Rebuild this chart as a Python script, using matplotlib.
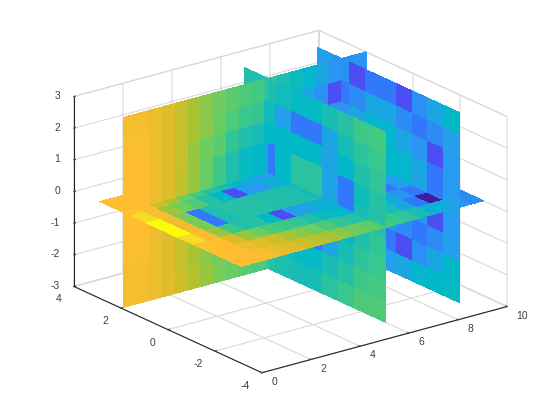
import matplotlib
matplotlib.use('Agg')
import numpy as np
import matplotlib.pyplot as plt
from matplotlib.colors import LinearSegmentedColormap
from mpl_toolkits.mplot3d.art3d import Poly3DCollection

# grid of the volume
x_grid = np.linspace(0.1, 10, 20)
y_grid = np.linspace(-3, 3, 10)
z_grid = np.linspace(-3, 3, 10)

# cell values, 0 = indigo, 100 = yellow
# slice x = 9, rows z ascending, columns y ascending
slice_x9 = [
    [33, 32, 31, 28, 26, 26, 28, 30, 30],
    [32, 28, 23, 10, 18, 18, 10, 23, 26],
    [26, 22, 18, 22, 28, 28, 22, 18, 22],
    [25, 10, 24, 27, 31, 31, 27, 24, 10],
    [25, 18, 27, 31, 32, 32, 31, 27, 18],
    [25, 18, 27, 31, 32, 32, 31, 27, 18],
    [25, 10, 24, 27, 31, 31, 27, 24, 10],
    [26, 22, 18, 22, 28, 28, 22, 18, 22],
    [32, 28, 23, 10, 18, 18, 10, 23, 26],
]
# slice x = 6
slice_x6 = [
    [51, 50, 47, 43, 38, 38, 40, 42, 42],
    [49, 48, 42, 39, 33, 33, 37, 41, 41],
    [47, 44, 38, 27, 18, 18, 26, 36, 42],
    [45, 41, 32, 27, 32, 32, 32, 32, 38],
    [42, 39, 18, 27, 43, 43, 32, 18, 36],
    [42, 36, 18, 27, 43, 43, 32, 18, 36],
    [45, 41, 32, 27, 32, 32, 32, 32, 38],
    [47, 44, 38, 27, 18, 18, 26, 36, 42],
    [49, 48, 42, 39, 33, 33, 37, 41, 41],
]
# slice y = 2, rows z ascending, columns x ascending
slice_y2 = [
    [77, 77, 75, 72, 68, 64, 60, 56, 54, 52, 50, 48, 44, 40, 36, 33, 30, 28, 27],
    [77, 77, 75, 71, 67, 62, 58, 55, 52, 50, 49, 45, 40, 35, 31, 28, 24, 23, 24],
    [79, 79, 75, 71, 67, 62, 58, 54, 50, 47, 46, 36, 32, 30, 26, 23, 10, 18, 20],
    [80, 80, 75, 71, 67, 60, 55, 52, 45, 41, 38, 32, 27, 30, 30, 28, 24, 22, 22],
    [80, 80, 75, 71, 66, 60, 54, 48, 40, 34, 32, 30, 30, 30, 30, 30, 28, 26, 25],
    [80, 80, 75, 71, 66, 60, 54, 48, 40, 34, 32, 30, 30, 30, 30, 30, 28, 26, 25],
    [80, 80, 75, 71, 67, 60, 55, 52, 45, 41, 38, 32, 27, 30, 30, 28, 24, 22, 22],
    [79, 79, 75, 71, 67, 62, 58, 54, 50, 47, 46, 36, 32, 30, 26, 23, 10, 18, 20],
    [77, 77, 75, 71, 67, 62, 58, 55, 52, 50, 49, 45, 40, 35, 31, 28, 24, 23, 24],
]
# slice z = 0, rows y ascending, columns x ascending
slice_z0 = [
    [80, 80, 78, 74, 72, 68, 65, 62, 58, 55, 53, 50, 47, 44, 38, 30, 29, 24, 22],
    [80, 80, 75, 72, 68, 62, 58, 55, 50, 46, 42, 40, 42, 38, 28, 18,  0, 22, 20],
    [82, 80, 70, 60, 55, 50, 48, 45, 40, 35, 32, 30, 30, 31, 30, 24, 18, 22, 22],
    [90, 78, 60, 48, 42, 42, 32, 10, 25, 27, 30, 30, 28, 26, 25, 18, 25, 25, 25],
    [100, 76, 56, 18, 40, 42, 42, 42, 41, 41, 40, 36, 32, 30, 28, 26, 25, 25, 25],
    [100, 76, 56, 18, 40, 42, 42, 42, 41, 41, 40, 36, 32, 30, 28, 26, 25, 25, 25],
    [90, 78, 60, 55, 50, 42, 32, 10, 25, 25, 30, 30, 28, 26, 25, 18, 25, 25, 25],
    [82, 80, 68, 62, 55, 48, 42, 38, 32, 30, 26, 26, 26, 26, 26, 24, 22, 22, 22],
    [80, 80, 78, 74, 70, 66, 62, 58, 54, 50, 46, 44, 40, 36, 32, 28, 26, 24, 22],
]

x_ticks = [0, 2, 4, 6, 8, 10]
y_ticks = [-4, -2, 0, 2, 4]
z_ticks = [-3, -2, -1, 0, 1, 2, 3]

parula = LinearSegmentedColormap.from_list('parula', [
    (0.00, '#3c1ea0'),
    (0.10, '#4b50f5'),
    (0.18, '#3278fa'),
    (0.25, '#289bf0'),
    (0.32, '#00b9c8'),
    (0.40, '#1ebeaf'),
    (0.48, '#3cc887'),
    (0.55, '#6ecd5f'),
    (0.62, '#aac332'),
    (0.70, '#d7be28'),
    (0.80, '#ffbe32'),
    (0.90, '#f5dc28'),
    (1.00, '#fafa0a'),
])

plt.rcParams['font.family'] = ['Liberation Sans', 'DejaVu Sans']
plt.rcParams['axes.unicode_minus'] = False

fig = plt.figure(figsize=(5.6, 4.2), dpi=100)
ax = fig.add_axes([74.8 / 560, 2.8 / 420, 0.75, 1.0], projection='3d',
                  proj_type='ortho', computed_zorder=False)
ax.view_init(elev=20.6, azim=-127.5)
ax.set_box_aspect((1.361, 1.361, 0.894), zoom=1.1135)
ax.patch.set_alpha(0)

n = [0]


def add_polys(polys, vals):
    if not polys:
        return
    col = Poly3DCollection(polys, facecolors=parula(np.array(vals) / 100),
                           edgecolors='none', linewidths=0, antialiaseds=False)
    col.set_zorder(10 + n[0])
    n[0] += 1
    ax.add_collection3d(col)


def plane_x(x0, vals):
    polys, out = [], []
    for r, row in enumerate(vals):
        for c, v in enumerate(row):
            y0, y1, z0, z1 = y_grid[c], y_grid[c + 1], z_grid[r], z_grid[r + 1]
            polys.append([(x0, y0, z0), (x0, y1, z0), (x0, y1, z1), (x0, y0, z1)])
            out.append(v)
    add_polys(polys, out)


def plane_y(y0, vals, xlo, xhi):
    polys, out = [], []
    for r, row in enumerate(vals):
        for c, v in enumerate(row):
            xa, xb = max(x_grid[c], xlo), min(x_grid[c + 1], xhi)
            if xb <= xa:
                continue
            z0, z1 = z_grid[r], z_grid[r + 1]
            polys.append([(xa, y0, z0), (xb, y0, z0), (xb, y0, z1), (xa, y0, z1)])
            out.append(v)
    add_polys(polys, out)


def plane_z(z0, vals, xlo, xhi, ylo, yhi):
    polys, out = [], []
    for r, row in enumerate(vals):
        ya, yb = max(y_grid[r], ylo), min(y_grid[r + 1], yhi)
        if yb <= ya:
            continue
        for c, v in enumerate(row):
            xa, xb = max(x_grid[c], xlo), min(x_grid[c + 1], xhi)
            if xb <= xa:
                continue
            polys.append([(xa, ya, z0), (xb, ya, z0), (xb, yb, z0), (xa, yb, z0)])
            out.append(v)
    add_polys(polys, out)


# back to front, the planes cut the space into slabs
for xlo, xhi, x_plane, x_vals in [(9, 10, 9, slice_x9), (6, 9, 6, slice_x6), (0.1, 6, None, None)]:
    plane_z(0, slice_z0, xlo, xhi, 2, 3)
    plane_y(2, slice_y2, xlo, xhi)
    plane_z(0, slice_z0, xlo, xhi, -3, 2)
    if x_plane is not None:
        plane_x(x_plane, x_vals)

ax.set_xlim(0, 10)
ax.set_ylim(-4, 4)
ax.set_zlim(-3, 3)
ax.set_xticks(x_ticks)
ax.set_yticks(y_ticks)
ax.set_zticks(z_ticks)

for axis in (ax.xaxis, ax.yaxis, ax.zaxis):
    axis.set_pane_color((1, 1, 1, 1))
    axis.pane.set_edgecolor((0.85, 0.85, 0.85))
    axis.pane.set_linewidth(0.8)
    axis.line.set_color((0.15, 0.15, 0.15))
    axis.line.set_linewidth(0.8)
    axis._axinfo['grid'].update(color=(0.85, 0.85, 0.85), linewidth=0.8)
    axis._axinfo['tick'].update(inward_factor=0.0, outward_factor=0.08)
ax.tick_params(axis='x', labelsize=7.5, colors=(0.25, 0.25, 0.25), pad=0)
ax.tick_params(axis='y', labelsize=7.5, colors=(0.25, 0.25, 0.25), pad=0)
ax.tick_params(axis='z', labelsize=7.5, colors=(0.25, 0.25, 0.25), pad=-3)

for lab in ax.xaxis.get_ticklabels():
    lab.set_ha('left')
    lab.set_va('bottom')
for lab in ax.yaxis.get_ticklabels():
    lab.set_ha('right')
    lab.set_va('center')
for lab in ax.zaxis.get_ticklabels():
    lab.set_ha('right')
    lab.set_va('center')

fig.savefig('out.png', dpi=100)
